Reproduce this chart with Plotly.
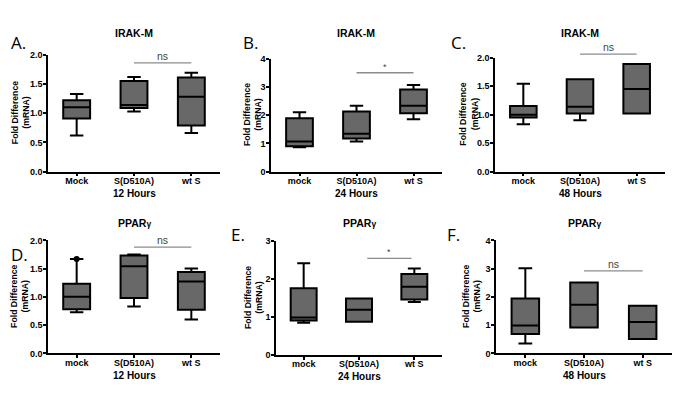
import plotly.graph_objects as go

W, H = 700, 393

# ---------------- data ----------------
cats_12h_irak = ["Mock", "S(D510A)", "wt S"]
cats = ["mock", "S(D510A)", "wt S"]

# Panel A: IRAK-M, 12 h
A_min = [0.62, 1.03, 0.66]
A_q1 = [0.91, 1.09, 0.79]
A_med = [1.10, 1.14, 1.28]
A_q3 = [1.22, 1.55, 1.61]
A_max = [1.33, 1.62, 1.69]

# Panel B: IRAK-M, 24 h
B_min = [0.86, 1.07, 1.85]
B_q1 = [0.90, 1.17, 2.07]
B_med = [1.07, 1.34, 2.33]
B_q3 = [1.89, 2.13, 2.91]
B_max = [2.10, 2.33, 3.07]

# Panel C: IRAK-M, 48 h
C_min = [0.83, 0.90, 1.02]
C_q1 = [0.95, 1.02, 1.02]
C_med = [1.00, 1.14, 1.45]
C_q3 = [1.15, 1.62, 1.89]
C_max = [1.54, 1.62, 1.89]

# Panel D: PPARγ, 12 h
D_min = [0.73, 0.83, 0.60]
D_q1 = [0.78, 0.98, 0.77]
D_med = [1.00, 1.54, 1.27]
D_q3 = [1.23, 1.73, 1.44]
D_max = [1.67, 1.75, 1.50]
D_point_cat = ["mock"]
D_point_val = [1.67]

# Panel E: PPARγ, 24 h
E_min = [0.85, 0.875, 1.40]
E_q1 = [0.91, 0.875, 1.46]
E_med = [0.99, 1.19, 1.80]
E_q3 = [1.76, 1.49, 2.14]
E_max = [2.42, 1.49, 2.28]

# Panel F: PPARγ, 48 h
F_min = [0.35, 0.92, 0.51]
F_q1 = [0.69, 0.92, 0.51]
F_med = [0.99, 1.72, 1.11]
F_q3 = [1.94, 2.51, 1.69]
F_max = [3.01, 2.51, 1.69]

panel_letters = ["A.", "B.", "C.", "D.", "E.", "F."]
panel_titles = ["IRAK-M", "IRAK-M", "IRAK-M",
                "PPAR<span style='font-size:8.5px'>γ</span>",
                "PPAR<span style='font-size:8.5px'>γ</span>",
                "PPAR<span style='font-size:8.5px'>γ</span>"]
x_titles = ["12 Hours", "24 Hours", "48 Hours", "12 Hours", "24 Hours", "48 Hours"]
y_title = "Fold Difference<br>(mRNA)"
y_max = [2.0, 4, 2.0, 2.0, 3, 4]
y_dtick = [0.5, 1, 0.5, 0.5, 1, 1]
y_fmt = [".1f", "d", ".1f", ".1f", "d", "d"]
sig_labels = ["ns", "*", "ns", "ns", "*", "ns"]
sig_y = [1.86, 3.5, 2.06, 1.88, 2.55, 2.92]
sig_x0 = [1.0, 1.0, 1.0, 1.0, 1.15, 1.0]
sig_x1 = [2.0, 2.0, 2.0, 2.0, 1.95, 2.0]

panels = [
    (cats_12h_irak, A_min, A_q1, A_med, A_q3, A_max),
    (cats, B_min, B_q1, B_med, B_q3, B_max),
    (cats, C_min, C_q1, C_med, C_q3, C_max),
    (cats, D_min, D_q1, D_med, D_q3, D_max),
    (cats, E_min, E_q1, E_med, E_q3, E_max),
    (cats, F_min, F_q1, F_med, F_q3, F_max),
]

# ---------------- layout geometry (pixels) ----------------
# (left, right, top, bottom) of each plotting area
boxes_px = [
    (48, 220, 51, 171),
    (271, 442, 55, 171),
    (495, 665, 54, 171),
    (48, 220, 241.5, 357.5),
    (276, 442, 242.5, 359),
    (496, 672, 241.5, 357.5),
]
letter_px = [(18, 38), (250, 38), (458, 38), (19, 256), (238, 235), (453, 235)]
title_y_px = [29, 29, 29, 224, 224, 224]
ytitle_x_px = [20, 252, 469, 20, 253, 472]
xtitle_y_px = [193.5, 193.5, 193.5, 380, 381, 380]

FONT = "Liberation Sans, Arial, sans-serif"
BOX_FILL = "#686868"
BRACKET = "#8c8c8c"
X_RANGE = [-0.5, 2.5]


def px_x(x):
    return x / W


def px_y(y):
    return 1 - y / H


def data_to_paper(i, xv, yv):
    """Map category-index / value of panel i into paper coordinates."""
    l, r, t, b = boxes_px[i]
    xf = (xv - X_RANGE[0]) / (X_RANGE[1] - X_RANGE[0])
    yf = yv / y_max[i]
    return px_x(l + xf * (r - l)), px_y(b - yf * (b - t))


fig = go.Figure()
layout = dict(
    width=W, height=H,
    margin=dict(l=0, r=0, t=0, b=0),
    paper_bgcolor="white", plot_bgcolor="white",
    showlegend=False, boxgap=0.33, hovermode=False,
    font=dict(family=FONT, color="black"),
)
annotations = []
shapes = []

for i, (cts, mn, q1, md, q3, mx) in enumerate(panels):
    n = "" if i == 0 else str(i + 1)
    xa, ya = "x" + n, "y" + n
    l, r, t, b = boxes_px[i]
    fig.add_trace(go.Box(
        x=cts, q1=q1, median=md, q3=q3, lowerfence=mn, upperfence=mx,
        fillcolor=BOX_FILL, line=dict(color="black", width=2),
        whiskerwidth=0.5, boxpoints=False, xaxis=xa, yaxis=ya,
    ))
    layout["xaxis" + n] = dict(
        domain=[px_x(l), px_x(r)], anchor=ya, range=X_RANGE,
        type="category", showline=True, linecolor="black", linewidth=1.5,
        ticks="outside", ticklen=3, tickwidth=1.5, tickcolor="black",
        ticklabelstandoff=-3,
        showgrid=False, zeroline=False,
        tickfont=dict(family=FONT, size=9, color="black", weight="bold"),
    )
    layout["yaxis" + n] = dict(
        domain=[px_y(b), px_y(t)], anchor=xa, range=[0, y_max[i]],
        dtick=y_dtick[i], tickformat=y_fmt[i],
        showline=True, linecolor="black", linewidth=1.5,
        ticks="outside", ticklen=3, tickwidth=1.5, tickcolor="black",
        ticklabelstandoff=-1,
        showgrid=False, zeroline=False,
        tickfont=dict(family=FONT, size=9, color="black", weight="bold"),
    )
    # panel title
    annotations.append(dict(
        x=px_x((l + r) / 2), y=px_y(title_y_px[i]), xref="paper", yref="paper",
        text="<b>%s</b>" % panel_titles[i], showarrow=False,
        font=dict(family=FONT, size=10.5, color="black"),
        xanchor="center", yanchor="middle",
    ))
    # axis titles
    annotations.append(dict(
        x=px_x((l + r) / 2), y=px_y(xtitle_y_px[i]), xref="paper", yref="paper",
        text="<b>%s</b>" % x_titles[i], showarrow=False,
        font=dict(family=FONT, size=10, color="black"),
        xanchor="center", yanchor="middle",
    ))
    annotations.append(dict(
        x=px_x(ytitle_x_px[i]), y=px_y((t + b) / 2), xref="paper", yref="paper",
        text="<b>%s</b>" % y_title, showarrow=False, textangle=-90,
        font=dict(family=FONT, size=8.7, color="black"),
        xanchor="center", yanchor="middle",
    ))
    # panel letter
    lx, ly = letter_px[i]
    annotations.append(dict(
        x=px_x(lx), y=px_y(ly), xref="paper", yref="paper",
        text=panel_letters[i], showarrow=False,
        font=dict(family="Open Sans, sans-serif", size=17, color="black"),
        xanchor="center", yanchor="middle",
    ))
    # significance bracket
    bx0, by = data_to_paper(i, sig_x0[i], sig_y[i])
    bx1, _ = data_to_paper(i, sig_x1[i], sig_y[i])
    shapes.append(dict(
        type="line", xref="paper", yref="paper",
        x0=bx0, x1=bx1, y0=by, y1=by,
        line=dict(color=BRACKET, width=1.3),
    ))
    annotations.append(dict(
        x=(bx0 + bx1) / 2, y=by, xref="paper", yref="paper",
        text=sig_labels[i], showarrow=False, yanchor="bottom",
        xanchor="center", yshift=-1,
        font=dict(family=FONT, size=10.5 if sig_labels[i] == "ns" else 9,
                  color="#444444"),
    ))

# outlier point on panel D
fig.add_trace(go.Scatter(
    x=D_point_cat, y=D_point_val, mode="markers",
    marker=dict(color="black", size=6), xaxis="x4", yaxis="y4",
    cliponaxis=False,
))

layout["annotations"] = annotations
layout["shapes"] = shapes
fig.update_layout(**layout)
fig.write_html(
    "out.html",
    config={"displayModeBar": False},
    post_script="document.body.style.margin='0';document.body.style.overflow='hidden';",
)
